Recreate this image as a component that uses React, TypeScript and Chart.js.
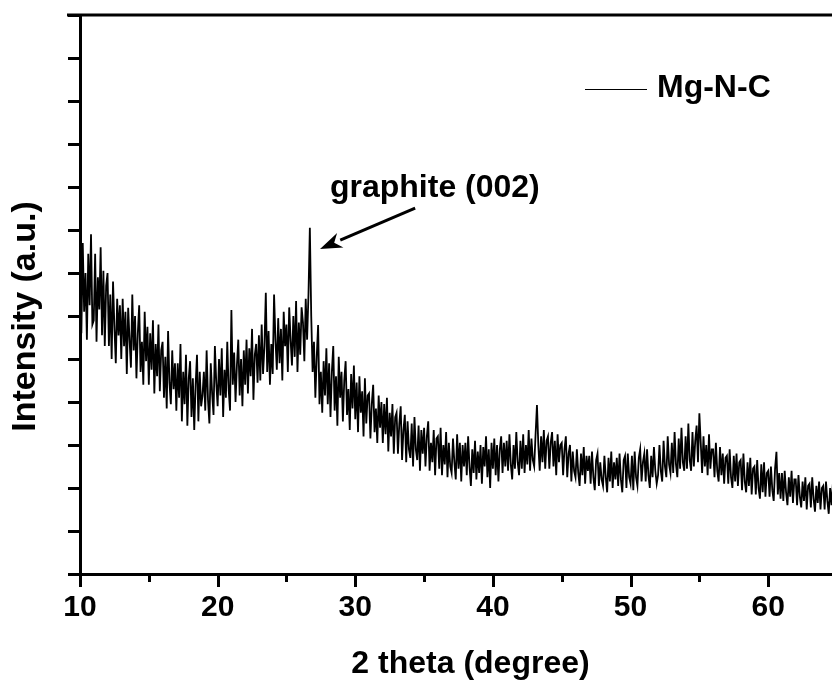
import React, { useEffect, useRef } from "react";
import { Chart, registerables } from "chart.js";

Chart.register(...registerables);

// ---- data (2θ grid: start + step, intensities, a.u.) ----
const TWO_THETA_START = 10;
const TWO_THETA_STEP = 0.1;

const INTENSITY_10S = [
  720, 560, 770, 610, 700, 545, 745, 625, 790, 580,
  590, 745, 540, 690, 615, 760, 555, 705, 530, 670,
  700, 530, 650, 500, 680, 575, 490, 640, 555, 625,
  500, 640, 530, 610, 465, 619, 545, 480, 650, 520,
  600, 455, 560, 625, 470, 540, 440, 610, 495, 575,
  440, 560, 475, 590, 420, 535, 460, 580, 425, 520,
  540, 410, 505, 385, 565, 445, 395, 520, 430, 490,
  380, 490, 410, 535, 355, 470, 395, 510, 345, 455,
  495, 365, 455, 335, 440, 510, 355, 470, 390, 415,
  470, 380, 520, 405, 350, 490, 420, 370, 530, 445,
];
const INTENSITY_20S = [
  390, 500, 415, 525, 365, 475, 410, 540, 430, 380,
  614, 440, 515, 400, 485, 545, 415, 500, 390, 520,
  440, 545, 420, 525, 460, 570, 405, 510, 535, 445,
  555, 450, 580, 465, 530, 654, 470, 565, 440, 535,
  465, 650, 545, 475, 595, 490, 570, 450, 610, 530,
  580, 470, 620, 545, 485, 600, 505, 635, 470, 585,
  510, 620, 585, 495, 640, 545, 650, 805, 600, 470,
  540, 410, 505, 579, 395, 470, 375, 495, 415, 525,
  395, 490, 365, 470, 530, 380, 460, 345, 505, 410,
  470, 355, 450, 495, 370, 430, 335, 465, 385, 485,
];
const INTENSITY_30S = [
  360, 445, 330, 460, 375, 425, 320, 455, 350, 415,
  420, 315, 395, 440, 330, 385, 305, 415, 340, 400,
  305, 395, 325, 410, 285, 375, 320, 395, 280, 365,
  375, 280, 350, 390, 265, 335, 370, 260, 355, 290,
  270, 350, 250, 365, 290, 265, 345, 240, 335, 280,
  340, 250, 320, 355, 240, 305, 260, 335, 230, 315,
  320, 245, 340, 230, 300, 255, 330, 225, 305, 250,
  235, 315, 260, 220, 325, 245, 305, 215, 300, 250,
  305, 230, 320, 250, 205, 290, 235, 310, 220, 285,
  235, 300, 210, 295, 250, 320, 225, 290, 200, 305,
];
const INTENSITY_40S = [
  245, 315, 230, 300, 215, 290, 320, 235, 305, 250,
  310, 240, 325, 255, 220, 300, 245, 330, 260, 230,
  310, 245, 325, 235, 300, 255, 335, 240, 315, 265,
  250, 325, 393, 300, 240, 320, 260, 335, 245, 310,
  320, 245, 305, 330, 250, 310, 230, 325, 260, 300,
  305, 230, 290, 320, 225, 280, 300, 215, 285, 240,
  225, 290, 235, 205, 280, 230, 295, 210, 275, 240,
  275, 210, 285, 225, 195, 265, 280, 205, 260, 220,
  205, 275, 225, 190, 270, 215, 285, 200, 260, 220,
  270, 205, 280, 220, 190, 265, 275, 200, 280, 225,
];
const INTENSITY_50S = [
  210, 275, 195, 285, 225, 205, 270, 290, 215, 260,
  280, 215, 290, 230, 200, 275, 225, 295, 240, 210,
  230, 300, 240, 215, 310, 250, 225, 320, 255, 235,
  305, 235, 330, 255, 225, 315, 245, 340, 260, 240,
  320, 245, 350, 265, 240, 330, 250, 310, 345, 260,
  374, 305, 235, 320, 250, 300, 230, 325, 245, 290,
  290, 225, 305, 240, 215, 295, 230, 280, 210, 270,
  275, 210, 290, 225, 200, 275, 215, 280, 205, 260,
  265, 195, 280, 215, 190, 260, 205, 270, 185, 245,
  250, 185, 265, 200, 175, 255, 190, 260, 180, 235,
];
const INTENSITY_60S = [
  240, 180, 250, 195, 170, 245, 284, 185, 235, 175,
  235, 170, 240, 190, 160, 225, 180, 240, 165, 220,
  220, 160, 230, 180, 155, 215, 170, 225, 150, 205,
  210, 155, 225, 175, 145, 205, 165, 215, 150, 200,
  205, 150, 215, 170, 140, 200, 160, 210, 145, 195,
  180,
];

// ---- axes ----
const X_MIN = 10;
const X_MAX = 65;
const X_MAJOR_TICKS = [10, 20, 30, 40, 50, 60];
const X_MINOR_TICKS = [15, 25, 35, 45, 55, 65];
const Y_MIN = 0;
const Y_MAX = 1300;
const Y_TICK_STEP = 100;

// ---- texts ----
const SERIES_LABEL = "Mg-N-C";
const X_TITLE = "2 theta (degree)";
const Y_TITLE = "Intensity (a.u.)";
const PEAK_LABEL = "graphite (002)";
const PEAK_LABEL_AT = { x: 28.16, y: 877 };
const ARROW_FROM = { x: 34.35, y: 851 };
const ARROW_TO = { x: 27.44, y: 756 };

const FONT = '"Liberation Sans", Arial, Helvetica, sans-serif';

const decorations = {
  id: "decorations",
  afterDraw(chart: any) {
    const { ctx, chartArea, scales } = chart;
    const xs = scales.x;
    const ys = scales.y;
    const L = chartArea.left;
    const B = chartArea.bottom;
    ctx.save();
    ctx.strokeStyle = "#000";
    ctx.fillStyle = "#000";
    ctx.lineCap = "butt";

    // top frame line
    ctx.lineWidth = 3;
    ctx.beginPath();
    ctx.moveTo(L - 13, chartArea.top);
    ctx.lineTo(chart.width, chartArea.top);
    ctx.stroke();

    // y ticks (outside, no labels)
    ctx.lineWidth = 3;
    ctx.beginPath();
    for (let v = Y_MIN; v <= Y_MAX; v += Y_TICK_STEP) {
      const py = Math.round(ys.getPixelForValue(v)) + 0.5;
      ctx.moveTo(L, py);
      ctx.lineTo(L - 12, py);
    }
    ctx.stroke();

    // x ticks
    ctx.beginPath();
    X_MAJOR_TICKS.forEach((v) => {
      const px = Math.round(xs.getPixelForValue(v)) + 0.5;
      ctx.moveTo(px, B);
      ctx.lineTo(px, B + 13);
    });
    X_MINOR_TICKS.forEach((v) => {
      const px = Math.round(xs.getPixelForValue(v)) + 0.5;
      ctx.moveTo(px, B);
      ctx.lineTo(px, B + 8);
    });
    ctx.stroke();

    // axis titles
    ctx.font = `bold 32px ${FONT}`;
    ctx.textAlign = "center";
    ctx.textBaseline = "alphabetic";
    ctx.fillText(X_TITLE, (L + chartArea.right) / 2 + 12, B + 99);

    ctx.save();
    ctx.translate(26, (chartArea.top + B) / 2 + 22);
    ctx.rotate(-Math.PI / 2);
    ctx.font = `bold 34px ${FONT}`;
    ctx.textBaseline = "middle";
    ctx.fillText(Y_TITLE, 0, 0);
    ctx.restore();

    // legend
    const ly = Math.round(chartArea.top + 74) + 0.5;
    ctx.lineWidth = 1;
    ctx.beginPath();
    ctx.moveTo(chartArea.right - 252, ly);
    ctx.lineTo(chartArea.right - 190, ly);
    ctx.stroke();
    ctx.font = `bold 32px ${FONT}`;
    ctx.textAlign = "left";
    ctx.textBaseline = "middle";
    ctx.fillText(SERIES_LABEL, chartArea.right - 180, ly - 1);

    // peak annotation
    ctx.textBaseline = "alphabetic";
    ctx.fillText(PEAK_LABEL, xs.getPixelForValue(PEAK_LABEL_AT.x), ys.getPixelForValue(PEAK_LABEL_AT.y));

    const x1 = xs.getPixelForValue(ARROW_FROM.x);
    const y1 = ys.getPixelForValue(ARROW_FROM.y);
    const x2 = xs.getPixelForValue(ARROW_TO.x);
    const y2 = ys.getPixelForValue(ARROW_TO.y);
    const ang = Math.atan2(y2 - y1, x2 - x1);
    const head = 22;
    const hw = 8;
    const bx = x2 - head * Math.cos(ang);
    const by = y2 - head * Math.sin(ang);
    ctx.lineWidth = 3;
    ctx.beginPath();
    ctx.moveTo(x1, y1);
    ctx.lineTo(bx, by);
    ctx.stroke();
    ctx.beginPath();
    ctx.moveTo(x2, y2);
    ctx.lineTo(bx + hw * Math.sin(ang), by - hw * Math.cos(ang));
    ctx.lineTo(bx + 0.3 * head * Math.cos(ang), by + 0.3 * head * Math.sin(ang));
    ctx.lineTo(bx - hw * Math.sin(ang), by + hw * Math.cos(ang));
    ctx.closePath();
    ctx.fill();

    ctx.restore();
  },
};

export default function App() {
  const ref = useRef<HTMLCanvasElement | null>(null);

  useEffect(() => {
    if (!ref.current) return;
    const intensities = [
      ...INTENSITY_10S,
      ...INTENSITY_20S,
      ...INTENSITY_30S,
      ...INTENSITY_40S,
      ...INTENSITY_50S,
      ...INTENSITY_60S,
    ];
    const points = intensities.map((y, i) => ({
      x: Math.round((TWO_THETA_START + i * TWO_THETA_STEP) * 100) / 100,
      y,
    }));

    const chart = new Chart(ref.current, {
      type: "line",
      data: {
        datasets: [
          {
            label: SERIES_LABEL,
            data: points,
            borderColor: "#000",
            borderWidth: 1.8,
            borderJoinStyle: "miter",
            pointRadius: 0,
            tension: 0,
            fill: false,
          },
        ],
      },
      options: {
        animation: false,
        responsive: false,
        devicePixelRatio: 1,
        parsing: false,
        layout: { padding: { top: 15, left: 0, right: 0, bottom: 0 } },
        plugins: {
          legend: { display: false },
          tooltip: { enabled: false },
          title: { display: false },
        },
        scales: {
          x: {
            type: "linear",
            min: X_MIN,
            max: X_MAX,
            grid: { display: false, drawTicks: false },
            border: { display: true, color: "#000", width: 3 },
            ticks: {
              stepSize: 10,
              includeBounds: false,
              autoSkip: false,
              maxRotation: 0,
              color: "#000",
              padding: 16,
              font: { family: FONT, size: 30, weight: "bold" },
            },
            afterFit: (s: any) => {
              s.height = 106;
            },
          },
          y: {
            type: "linear",
            min: Y_MIN,
            max: Y_MAX,
            grid: { display: false, drawTicks: false },
            border: { display: true, color: "#000", width: 3 },
            ticks: { display: false, stepSize: Y_TICK_STEP },
            afterFit: (s: any) => {
              s.width = 80;
            },
          },
        },
      },
      plugins: [decorations],
    });
    return () => chart.destroy();
  }, []);

  return (
    <div
      style={{
        position: "absolute",
        left: 0,
        top: 0,
        width: 832,
        height: 680,
        overflow: "hidden",
        background: "#fff",
      }}
    >
      <canvas ref={ref} width={837} height={680} style={{ display: "block" }} />
    </div>
  );
}
